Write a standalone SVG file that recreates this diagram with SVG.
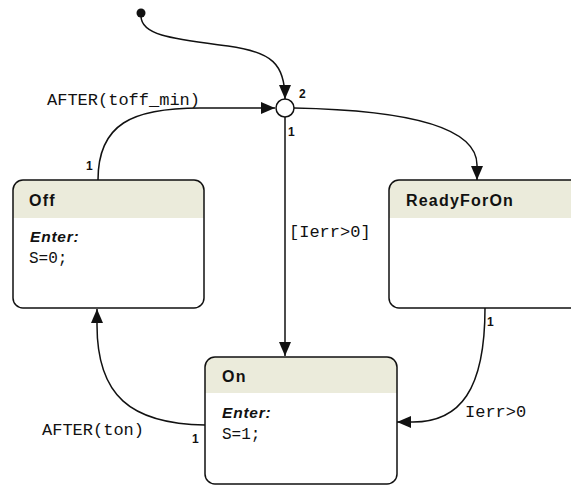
<svg xmlns="http://www.w3.org/2000/svg" width="571" height="486" viewBox="0 0 571 486">
<style>
.box{fill:none;stroke:#111;stroke-width:1.5}
.hdr{fill:#ebebdb}
.title{font-family:"Liberation Sans",Arial,sans-serif;font-weight:bold;font-size:16px;letter-spacing:1.2px;fill:#111}
.enter{font-family:"Liberation Sans",Arial,sans-serif;font-weight:bold;font-style:italic;font-size:15.5px;letter-spacing:0.8px;fill:#111}
.code{font-family:"Liberation Mono","Courier New",monospace;font-size:16px;fill:#111}
.lbl{font-family:"Liberation Mono","Courier New",monospace;font-size:17px;fill:#111}
.num{font-family:"Liberation Sans",Arial,sans-serif;font-weight:bold;font-size:12px;fill:#111}
.edge{fill:none;stroke:#111;stroke-width:1.5}
</style>
<defs>
<marker id="arr" viewBox="0 0 14 12" refX="14" refY="6" markerWidth="14" markerHeight="12" markerUnits="userSpaceOnUse" orient="auto">
<path d="M0,0 L14,6 L0,12 Z" fill="#111"/>
</marker>
<clipPath id="cOff"><rect x="13" y="180" width="191" height="128" rx="10"/></clipPath>
<clipPath id="cRdy"><rect x="389" y="180" width="200" height="128" rx="10"/></clipPath>
<clipPath id="cOn"><rect x="205" y="357" width="192" height="127" rx="10"/></clipPath>
</defs>

<g id="initial">
<circle cx="141" cy="13" r="4.5" fill="#111"/>
</g>

<g id="junction">
<circle cx="285" cy="108" r="9" fill="#fff" stroke="#111" stroke-width="1.5"/>
</g>

<g id="Off">
<rect x="13" y="180" width="191" height="128" rx="10" fill="#fff"/>
<rect x="13" y="180" width="191" height="38" class="hdr" clip-path="url(#cOff)"/>
<rect x="13" y="180" width="191" height="128" rx="10" class="box"/>
<text x="29" y="206" class="title">Off</text>
<text x="30" y="242" class="enter">Enter:</text>
<text x="29" y="263" class="code">S=0;</text>
</g>

<g id="ReadyForOn">
<rect x="389" y="180" width="200" height="128" rx="10" fill="#fff"/>
<rect x="389" y="180" width="200" height="38" class="hdr" clip-path="url(#cRdy)"/>
<rect x="389" y="180" width="200" height="128" rx="10" class="box"/>
<text x="406" y="206" class="title">ReadyForOn</text>
</g>

<g id="On">
<rect x="205" y="357" width="192" height="127" rx="10" fill="#fff"/>
<rect x="205" y="357" width="192" height="36" class="hdr" clip-path="url(#cOn)"/>
<rect x="205" y="357" width="192" height="127" rx="10" class="box"/>
<text x="222" y="382" class="title">On</text>
<text x="222" y="418" class="enter">Enter:</text>
<text x="222" y="439" class="code">S=1;</text>
</g>

<g id="connectors">
<path class="edge" d="M141,16 C141,36 175,39 228,46 C272,52 285,64 285,99" marker-end="url(#arr)"/>
<path class="edge" d="M98,180 C98,124 132,108 200,108 L275,108" marker-end="url(#arr)"/>
<path class="edge" d="M294,108 C400,110 477,125 477,165 L477,180" marker-end="url(#arr)"/>
<path class="edge" d="M285,117 L285,356" marker-end="url(#arr)"/>
<path class="edge" d="M485,308 C485,390 460,422 413,422 L397,422" marker-end="url(#arr)"/>
<path class="edge" d="M205,425 C130,424 97,395 97,325 L97,309" marker-end="url(#arr)"/>
<text x="47" y="105" class="lbl">AFTER(toff_min)</text>
<text x="289" y="237" class="lbl">[Ierr&gt;0]</text>
<text x="465" y="417" class="lbl">Ierr&gt;0</text>
<text x="42" y="435" class="lbl">AFTER(ton)</text>
<text x="299" y="98" class="num">2</text>
<text x="288" y="136" class="num">1</text>
<text x="86" y="170" class="num">1</text>
<text x="487" y="326" class="num">1</text>
<text x="192" y="443" class="num">1</text>
</g>
</svg>
